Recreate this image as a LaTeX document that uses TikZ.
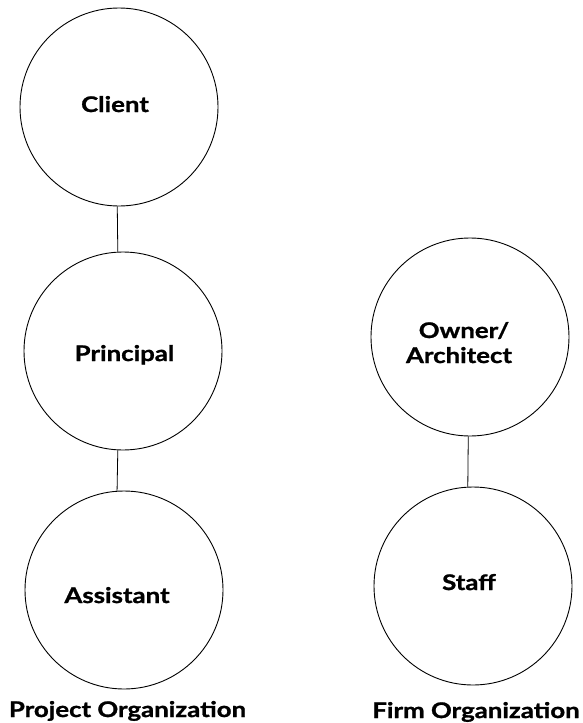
\documentclass[tikz,border=0pt]{standalone}
\usepackage{fontspec}
\setmainfont{Lato}[FakeStretch=1.2, BoldFeatures={FakeStretch=1.2, FakeBold=1.2}]
\begin{document}
\begin{tikzpicture}[x=1pt,y=-1pt,
  orgcircle/.style={circle, draw, line width=0.9pt, minimum size=198pt, inner sep=0pt},
  orglabel/.style={anchor=base, inner sep=0pt, font=\bfseries\fontsize{21.5}{25}\selectfont},
  caption/.style={anchor=base, inner sep=0pt, font=\bfseries\fontsize{21.5}{25}\selectfont},
  link/.style={line width=0.8pt}]
\useasboundingbox (0,0) rectangle (583,723);

% Project organization
\node[orgcircle] (client)    at (119,107) {};
\node[orgcircle] (principal) at (123,351) {};
\node[orgcircle] (assistant) at (124,590) {};
\node[orglabel] (tclient)    at (115,112) {Client};
\node[orglabel] (tprincipal) at (124.5,361) {Principal};
\node[orglabel] (tassistant) at (117,603) {Assistant};
\draw[link] (client.-91) -- (principal.93.5);
\draw[link] (principal.-93.5) -- (assistant.94);
\node[caption] (project) at (127.5,717) {Project Organization};

% Firm organization
\node[orgcircle] (owner) at (470,337) {};
\node[orgcircle] (staff) at (473,586) {};
\node[orglabel] (towner) at (464,338) {Owner/};
\node[orglabel] (tarch)  at (459,363) {Architect};
\node[orglabel] (tstaff) at (469,590) {Staff};
\draw[link] (owner.-91.7) -- (staff.93.5);
\node[caption] (firm) at (476,718) {Firm Organization};
\end{tikzpicture}
\end{document}
